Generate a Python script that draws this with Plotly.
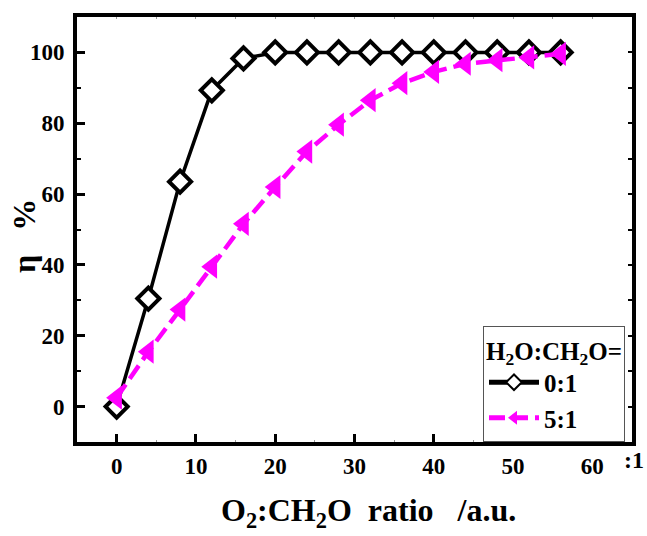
import plotly.graph_objects as go

x_vals = [0, 4, 8, 12, 16, 20, 24, 28, 32, 36, 40, 44, 48, 52, 56]
eta_0to1 = [0, 30.5, 63.5, 89.3, 98.3, 100, 100, 100, 100, 100, 100, 100, 100, 100, 100]
eta_5to1 = [2.5, 15.5, 27.4, 39.5, 51.6, 62, 72, 79.6, 86.5, 91.3, 94.5, 96.8, 97.8, 98.6, 99.6]
series_names = ["0:1", "5:1"]
x_ticks = [0, 10, 20, 30, 40, 50, 60]
y_ticks = [0, 20, 40, 60, 80, 100]

FONT = "Liberation Serif"

fig = go.Figure()
fig.add_trace(go.Scatter(
    x=x_vals, y=eta_0to1, name="<b>" + series_names[0] + "</b>", mode="lines+markers",
    line=dict(color="black", width=3.5),
    marker=dict(symbol="diamond", size=17, color="white", line=dict(color="black", width=4)),
))
fig.add_trace(go.Scatter(
    x=x_vals, y=eta_5to1, name="<b>" + series_names[1] + "</b>", mode="lines+markers",
    line=dict(color="#FF00FF", width=4.5, dash="16px,7px"),
    marker=dict(symbol="triangle-left", size=21, color="#FF00FF", line=dict(width=0)),
))
# invisible trace to carry the top/right tick axes
fig.add_trace(go.Scatter(x=[None], y=[None], xaxis="x2", yaxis="y2", showlegend=False, hoverinfo="skip"))

tickfont = dict(family=FONT, size=23, color="black", weight="bold")

fig.update_layout(
    width=647, height=536,
    margin=dict(l=77, r=15, t=17, b=94),
    paper_bgcolor="white", plot_bgcolor="white",
    font=dict(family=FONT, color="black"),
    xaxis=dict(
        range=[-5, 65], tickvals=x_ticks, ticks="inside", ticklen=8, tickwidth=3, tickcolor="black",
        showline=True, linewidth=4, linecolor="black", mirror=True, showgrid=False, zeroline=False,
        tickfont=tickfont, automargin=False,
        minor=dict(dtick=5, tick0=0, ticks="inside", ticklen=2, tickwidth=1, tickcolor="#999999", showgrid=False),
    ),
    yaxis=dict(
        range=[-10, 110], tickvals=y_ticks, ticks="inside", ticklen=8, tickwidth=3, tickcolor="black",
        showline=True, linewidth=4, linecolor="black", mirror=True, showgrid=False, zeroline=False,
        tickfont=tickfont, ticklabelstandoff=4, automargin=False,
        minor=dict(dtick=10, tick0=0, ticks="inside", ticklen=4, tickwidth=2, tickcolor="black", showgrid=False),
    ),
    xaxis2=dict(
        overlaying="x", side="top", range=[-5, 65], dtick=5, tick0=0, ticks="inside", ticklen=2,
        tickwidth=1, tickcolor="#999999", showticklabels=False, showgrid=False, zeroline=False, showline=False,
    ),
    yaxis2=dict(
        overlaying="y", side="right", range=[-10, 110], dtick=10, tick0=0, ticks="inside", ticklen=4,
        tickwidth=2, tickcolor="black", showticklabels=False, showgrid=False, zeroline=False, showline=False,
    ),
    legend=dict(
        title=dict(text="<b>H<sub>2</sub>O:CH<sub>2</sub>O=</b>", font=dict(family=FONT, size=25, color="black")),
        font=dict(family=FONT, size=25, color="black"),
        x=(483 - 77) / 555, y=0, xanchor="left", yanchor="bottom",
        bgcolor="white", bordercolor="#555555", borderwidth=1,
        tracegroupgap=0, itemsizing="constant", itemwidth=50,
    ),
    showlegend=True,
    annotations=[
        dict(text="<b>O<sub>2</sub>:CH<sub>2</sub>O  ratio   /a.u.</b>", xref="paper", yref="paper",
             x=(368 - 77) / 555, y=-(512 - 442) / 425, xanchor="center", yanchor="middle", showarrow=False,
             font=dict(family=FONT, size=32, color="black")),
        dict(text="<b>η   %</b>", xref="paper", yref="paper", textangle=-90,
             x=-(77 - 24) / 555, y=(442 - 236) / 425, xanchor="center", yanchor="middle", showarrow=False,
             font=dict(family=FONT, size=32, color="black")),
        dict(text="<b>:1</b>", xref="paper", yref="paper",
             x=(622 - 77) / 555, y=-(460 - 442) / 425, xanchor="left", yanchor="middle", showarrow=False,
             font=dict(family=FONT, size=24, color="black")),
    ],
)

fig.write_html("out.html", config={"displayModeBar": False},
               post_script="document.body.style.margin='0';")
